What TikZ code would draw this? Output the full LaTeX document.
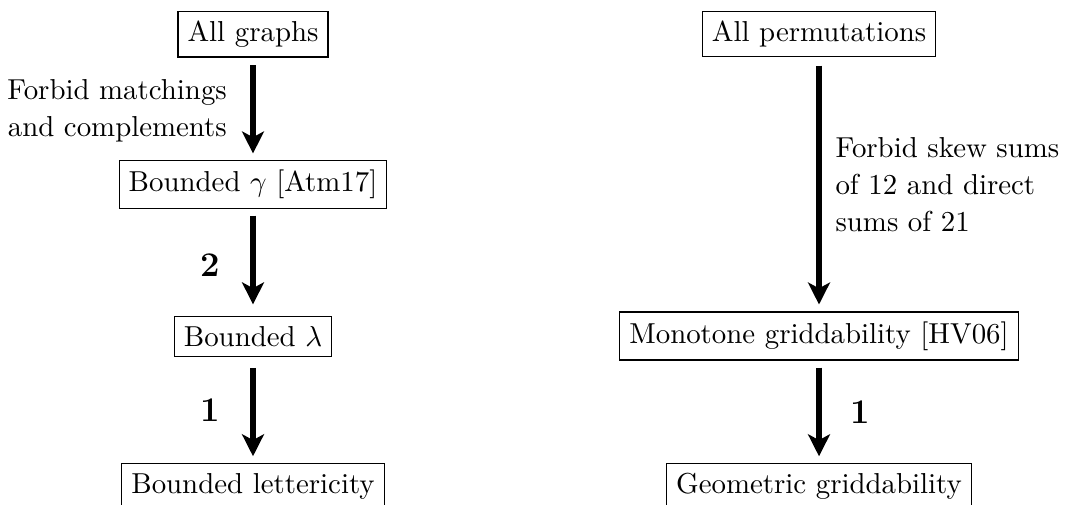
\documentclass[tikz,border=0pt]{standalone}
\usetikzlibrary{arrows.meta}
\begin{document}
\begin{tikzpicture}[x=0.3466pt,y=-0.3466pt,
  box/.style={draw,line width=0.4pt,inner sep=3.33pt},
  flow/.style={line width=2.2pt,-{Stealth[length=7.6pt,width=7.6pt,inset=2pt]}},
  num/.style={font=\large\bfseries}]
\useasboundingbox (0,0) rectangle (1069,504);
% left column
\node[box] (g1) at (253,34) {All graphs};
\node[box] (g2) at (253,184.5) {Bounded $\gamma$ [Atm17]};
\node[box] (g3) at (253,336.5) {Bounded $\lambda$};
\node[box] (g4) at (253,486.3) {Bounded lettericity};
% right column
\node[box] (p1) at (819,34) {All permutations};
\node[box] (p2) at (819,336) {Monotone griddability [HV06]};
\node[box] (p3) at (819,486.5) {Geometric griddability};
% arrows
\draw[flow,shorten <=2.6pt,shorten >=2.25pt] (g1) -- (g2)
  node[midway,left=4.65pt,align=right,yshift=-0.6pt]{Forbid matchings\\[0.8pt]and complements};
\draw[flow,shorten <=2.25pt,shorten >=4.1pt] (g2) -- (g3)
  node[midway,left=7.1pt,num,yshift=-1pt]{2};
\draw[flow,shorten <=3.8pt,shorten >=2.4pt] (g3) -- (g4)
  node[midway,left=7.1pt,num]{1};
\draw[flow,shorten <=2.9pt,shorten >=2.4pt] (p1) -- (p2)
  node[midway,right=1.3pt,align=left]{Forbid skew sums\\[0.8pt]of 12 and direct\\[0.8pt]sums of 21};
\draw[flow,shorten <=2.4pt,shorten >=2.4pt] (p2) -- (p3)
  node[midway,right=6.4pt,num]{1};
\end{tikzpicture}
\end{document}
